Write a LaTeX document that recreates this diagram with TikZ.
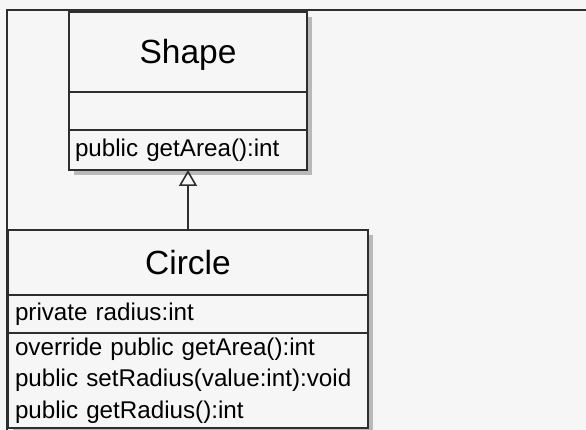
\documentclass[tikz,border=0pt]{standalone}
\usepackage{fontspec}
\setmainfont{Liberation Sans}
\usetikzlibrary{positioning,shadows,arrows.meta}
\definecolor{canvasgray}{HTML}{F6F6F6}
\definecolor{umlline}{HTML}{2E2E2E}

\begin{document}
\begin{tikzpicture}[
    x=1pt, y=-1pt,
    part/.style={draw=umlline, line width=1.6pt, fill=canvasgray, rectangle, outer sep=0pt, inner sep=0pt,
        drop shadow={shadow xshift=5pt, shadow yshift=-5pt, fill=gray!55, opacity=1}},
    classname/.style={part, text height=24pt, text depth=0pt, font=\fontsize{33.5}{38}\selectfont},
    members/.style={part, inner xsep=6pt, align=left, font=\fontsize{24.2}{31.5}\selectfont},
    inherit/.style={-{Triangle[open, length=16pt, width=18pt]}, line width=1.6pt, draw=umlline}
]

% Canvas and window frame
\useasboundingbox (0,0) rectangle (586,430);
\fill[canvasgray] (0,0) rectangle (586,430);
\draw[line width=2pt, umlline] (7,430) -- (7,10) -- (586,10);

% Shape class
\node[classname, minimum width=238pt, minimum height=80pt] (shapename) at (188,52) {Shape};
\node[members, minimum height=38pt, text width=226pt, below=0pt of shapename] (shapeattr) {};
\node[members, minimum height=40pt, text width=226pt, below=0pt of shapeattr] (shapeops) {public getArea():int};

% Circle class
\node[classname, minimum width=360pt, minimum height=65pt] (circlename) at (188,262.5) {Circle};
\node[members, minimum height=38pt, text width=346pt, inner xsep=7pt, below=0pt of circlename] (circleattr) {private radius:int};
\node[members, minimum height=95pt, text width=346pt, inner xsep=7pt, below=0pt of circleattr] (circleops) {override public getArea():int\\public setRadius(value:int):void\\public getRadius():int};

% Generalization
\draw[inherit] (circlename) -- (shapeops);

\end{tikzpicture}
\end{document}
